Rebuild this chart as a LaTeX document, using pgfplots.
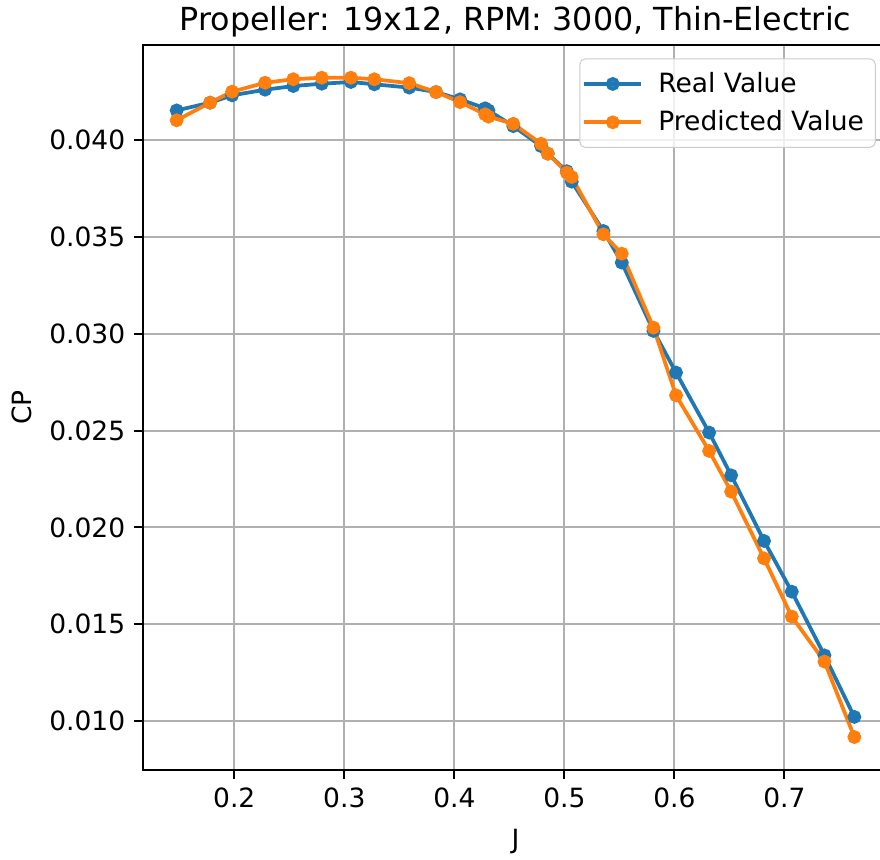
\documentclass[border=0pt]{standalone}
\usepackage{pgfplots}
\pgfplotsset{compat=1.18}
\usepackage{fontspec}
\setmainfont{DejaVu Sans}
\definecolor{mblue}{HTML}{1F77B4}
\definecolor{morange}{HTML}{FF7F0E}
\definecolor{mgrid}{HTML}{B0B0B0}
\begin{document}
\begin{tikzpicture}
\begin{axis}[
  at={(0pt,0pt)}, anchor=south west,
  scale only axis,
  width=298.2pt, height=290.1pt,
  xmin=0.1168, xmax=0.7944,
  ymin=0.007467, ymax=0.044933,
  xtick={0.2,0.3,0.4,0.5,0.6,0.7},
  ytick={0.010,0.015,0.020,0.025,0.030,0.035,0.040},
  /pgf/number format/assume math mode=true,
  xticklabel style={/pgf/number format/fixed,/pgf/number format/precision=1,/pgf/number format/fixed zerofill},
  yticklabel style={/pgf/number format/fixed,/pgf/number format/precision=3,/pgf/number format/fixed zerofill},
  scaled y ticks=false, scaled x ticks=false,
  tick align=outside,
  major tick length=3.5pt,
  tick style={black, line width=0.8pt},
  axis line style={black, line width=0.8pt},
  xtick pos=bottom, ytick pos=left,
  grid=major,
  major grid style={mgrid, line width=0.8pt},
  tick label style={font=\fontsize{10.6}{12.7}\selectfont},
  xlabel={J}, ylabel={CP},
  label style={font=\fontsize{10.6}{12.7}\selectfont},
  xlabel style={yshift=-1.8pt},
  ylabel style={yshift=0pt},
  title={Propeller: 19x12, RPM: 3000, Thin-Electric},
  title style={font=\fontsize{12.7}{15}\selectfont, yshift=-6.5pt},
  legend style={at={(1,1)}, anchor=north east, xshift=-5pt, yshift=-5.5pt,
    draw=black!20, rounded corners=2pt, fill=white, fill opacity=0.8, text opacity=1,
    font=\fontsize{10.6}{12.7}\selectfont, row sep=1.8pt, inner xsep=1pt, inner ysep=3.2pt,
    nodes={inner xsep=3.5pt},
    /tikz/every odd column/.append style={column sep=2.6pt}},
  legend cell align=left,
  legend image code/.code={\draw[mark repeat=2,mark phase=2] plot coordinates {(0pt,0pt) (11.4pt,0pt) (22.8pt,0pt)};},
]
\addplot[mblue, line width=1.5pt, mark=*, mark size=2pt, mark options={solid}] coordinates {
(0.1476,0.04154) (0.178,0.04194) (0.198,0.04232) (0.228,0.04261) (0.2536,0.0428)
(0.2795,0.04292) (0.306,0.04301) (0.3273,0.04289) (0.359,0.04272) (0.3834,0.04249)
(0.4052,0.04211) (0.428,0.04165) (0.431,0.04154) (0.4536,0.04073) (0.4788,0.0397)
(0.4849,0.03931) (0.5022,0.0384) (0.5067,0.03786) (0.5355,0.03531) (0.5522,0.03368)
(0.581,0.03015) (0.6015,0.0280) (0.6316,0.0249) (0.6516,0.02269) (0.6815,0.0193)
(0.7067,0.01668) (0.7364,0.01339) (0.7636,0.01021)
};
\addlegendentry{Real Value}
\addplot[morange, line width=1.5pt, mark=*, mark size=2pt, mark options={solid}] coordinates {
(0.1476,0.04103) (0.178,0.04194) (0.198,0.04251) (0.228,0.04297) (0.2536,0.04315)
(0.2795,0.04323) (0.306,0.04323) (0.3273,0.04315) (0.359,0.04295) (0.3834,0.04249)
(0.4052,0.04197) (0.428,0.04134) (0.431,0.04122) (0.4536,0.04085) (0.4788,0.03982)
(0.4849,0.03931) (0.5022,0.03833) (0.5067,0.0381) (0.5355,0.03514) (0.5522,0.03414)
(0.581,0.03032) (0.6015,0.02682) (0.6316,0.02395) (0.6516,0.02185) (0.6815,0.0184)
(0.7067,0.01539) (0.7364,0.01307) (0.7636,0.00917)
};
\addlegendentry{Predicted Value}
\end{axis}
\pgfresetboundingbox
\useasboundingbox (-57.1pt,-35.6pt) rectangle (294.9pt,308pt);
\end{tikzpicture}
\end{document}
